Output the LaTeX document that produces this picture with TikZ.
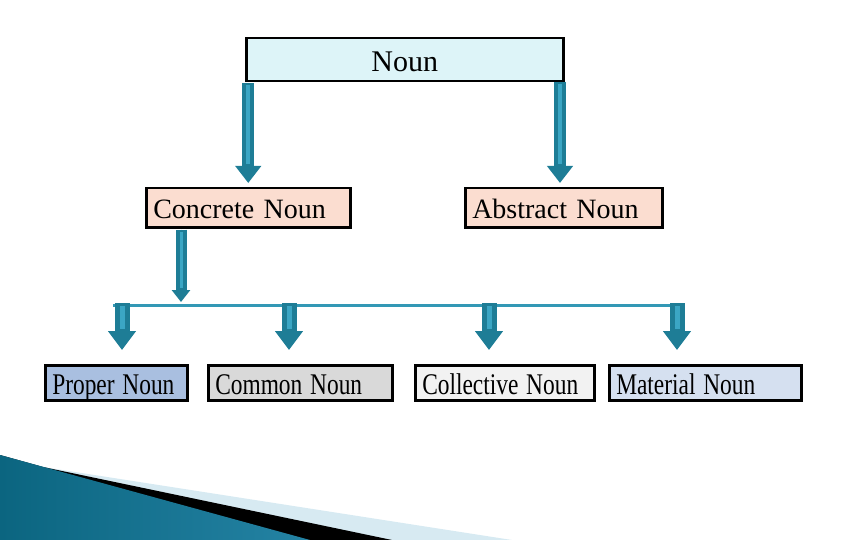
\documentclass[tikz,border=0pt]{standalone}
\usepackage{fontspec}
\setmainfont{Liberation Serif}
\usepackage{graphicx}
\usepackage{tikz}
\usetikzlibrary{arrows.meta}

\definecolor{nounfill}{HTML}{DDF4F8}
\definecolor{kindfill}{HTML}{FBDDD0}
\definecolor{properfill}{HTML}{A9BFE0}
\definecolor{commonfill}{HTML}{D9D9D9}
\definecolor{collectivefill}{HTML}{F2F2F2}
\definecolor{materialfill}{HTML}{D5E0F0}
\definecolor{arrowteal}{HTML}{1E7D96}
\definecolor{arrowlight}{HTML}{3BA6C4}
\definecolor{barteal}{HTML}{3398B5}
\definecolor{swooshdark}{HTML}{0B6580}
\definecolor{swooshmid}{HTML}{62C0DE}
\definecolor{swooshedge}{HTML}{2483A4}
\definecolor{swooshpale}{HTML}{D7EAF2}

\newcommand{\squeezed}[1]{\scalebox{0.78}[1]{#1}}

\begin{document}
\begin{tikzpicture}[x=1pt,y=-1pt,
		box/.style={draw=black, line width=2.5pt, rectangle, anchor=north west,
			inner xsep=7pt, inner ysep=0pt, align=left, text depth=0pt},
		leafbox/.style={box, minimum height=35pt, text height=23pt,
			font=\fontsize{30}{34}\selectfont},
		toparrow/.style={draw=arrowteal, line width=12pt, -{Triangle[width=25pt,length=17pt]}, fill=arrowteal},
		midarrow/.style={draw=arrowteal, line width=11pt, -{Triangle[width=18pt,length=12pt]}, fill=arrowteal},
		leafarrow/.style={draw=arrowteal, line width=15pt, -{Triangle[width=27pt,length=19pt]}, fill=arrowteal},
		shine/.style={draw=arrowlight, line width=4pt},
		bar/.style={draw=barteal, line width=3pt}]
				\useasboundingbox (0,0) rectangle (864,540);
				
				% Swoosh in the corner
				\fill[swooshpale] (0,455) -- (43,467) -- (512,540) -- (0,540) -- cycle;
				\fill[black] (0,455) -- (43,467) -- (392,540) -- (0,540) -- cycle;
				\shade[left color=swooshdark, middle color=swooshmid, right color=swooshedge]
					(0,455) -- (310,540) -- (0,540) -- cycle;
				
				% Boxes
				\node[box, fill=nounfill, text width=303pt, align=center, minimum height=43pt,
					text height=23pt, font=\fontsize{30}{34}\selectfont] (noun) at (245,37) {Noun};
				
				\node[box, fill=kindfill, text width=190pt, minimum height=39pt,
					text height=21pt, font=\fontsize{28}{32}\selectfont] (concrete) at (145,187) {Concrete Noun};
				\node[box, fill=kindfill, text width=183pt, minimum height=39pt,
					text height=21pt, font=\fontsize{28}{32}\selectfont] (abstract) at (464,187) {Abstract Noun};
				
				\node[leafbox, fill=properfill, text width=128pt] (proper) at (44,364) {\squeezed{Proper Noun}};
				\node[leafbox, fill=commonfill, text width=170pt] (common) at (207,364) {\squeezed{Common Noun}};
				\node[leafbox, fill=collectivefill, text width=165pt] (collective) at (414,364) {\squeezed{Collective Noun}};
				\node[leafbox, fill=materialfill, text width=178pt] (material) at (608,364) {\squeezed{Material Noun}};
				
				% Arrows from Noun
				\coordinate (tapabstract) at (560,81);
				\draw[toparrow, shorten <=1pt, shorten >=4pt] (noun.south -| concrete.north) -- (concrete.north);
				\draw[shine, shorten <=3pt, shorten >=23pt] (noun.south -| concrete.north) -- (concrete.north);
				\draw[toparrow, shorten <=1pt, shorten >=4pt] (tapabstract) -- (tapabstract |- abstract.north);
				\draw[shine, shorten <=3pt, shorten >=23pt] (tapabstract) -- (tapabstract |- abstract.north);
				
				% Arrow from Concrete Noun to the bar
				\coordinate (tapconcrete) at (181,302);
				\draw[midarrow, shorten <=1pt] (concrete.south -| tapconcrete) -- (tapconcrete);
				\draw[shine, line width=3pt, shorten <=3pt, shorten >=14pt] (concrete.south -| tapconcrete) -- (tapconcrete);
				
				% Bar
				\coordinate (barleft) at (113,305);
				\coordinate (barright) at (678,305);
				\draw[bar] (barleft) -- (barright);
				
				% Arrows down to the four kinds
				\foreach \x/\leaf in {122/proper,289/common,489/collective,677/material}{
					\coordinate (tap-\leaf) at (\x,303);
					\draw[leafarrow, shorten >=14pt] (tap-\leaf) -- (tap-\leaf |- \leaf.north);
					\draw[shine, line width=5pt, shorten <=3pt, shorten >=35pt] (tap-\leaf) -- (tap-\leaf |- \leaf.north);
				}
			\end{tikzpicture}
\end{document}
